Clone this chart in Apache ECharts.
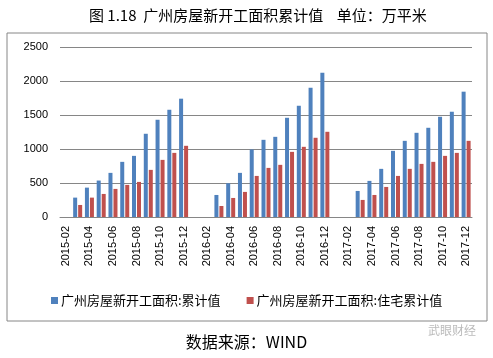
<!DOCTYPE html>
<html><head><meta charset="utf-8">
<script src="https://cdn.jsdelivr.net/npm/echarts@6/dist/echarts.min.js"></script>
<style>html,body{margin:0;padding:0;background:#fff}#c{width:493px;height:358px}</style>
</head><body><div id="c"></div>
<script>
const categories = ['2015-02','2015-03','2015-04','2015-05','2015-06','2015-07','2015-08','2015-09','2015-10','2015-11','2015-12',
'2016-01','2016-02','2016-03','2016-04','2016-05','2016-06','2016-07','2016-08','2016-09','2016-10','2016-11','2016-12',
'2017-01','2017-02','2017-03','2017-04','2017-05','2017-06','2017-07','2017-08','2017-09','2017-10','2017-11','2017-12'];
const totalValues = [null,285,432,536,649,811,899,1224,1430,1577,1740,
null,null,324,496,649,993,1135,1179,1459,1636,1902,2123,
null,null,383,531,708,973,1120,1238,1312,1474,1548,1843];
const residentialValues = [null,177,285,339,413,472,516,693,840,943,1047,
null,null,162,280,369,604,722,767,958,1032,1165,1253,
null,null,251,324,442,604,708,781,811,899,943,1120];
const seriesNames = ['广州房屋新开工面积:累计值','广州房屋新开工面积:住宅累计值'];
const titleText = '图 1.18  广州房屋新开工面积累计值    单位：万平米';
const sourceText = '数据来源：WIND';
const watermarkText = '武眼财经';

const cjk = '"Noto Sans CJK SC", sans-serif';
const chart = echarts.init(document.getElementById('c'));
chart.setOption({
  animation:false,
  title:{text:titleText,left:84,top:3,textStyle:{fontFamily:cjk,fontSize:15,fontWeight:'normal',color:'#000'}},
  legend:{bottom:46,left:46,itemWidth:7,itemHeight:7,itemGap:26,icon:'rect',
    textStyle:{fontFamily:cjk,fontSize:13,color:'#000',padding:[0,0,0,-2]}},
  grid:{left:60,right:21,top:47,bottom:141},
  xAxis:{type:'category',data:categories,
    axisLine:{lineStyle:{color:'#868686'}},axisTick:{show:false},
    axisLabel:{interval:1,rotate:90,fontFamily:'"Liberation Sans", Arial',fontSize:11,color:'#000',margin:9}},
  yAxis:{type:'value',min:0,max:2500,interval:500,
    axisLine:{show:false},axisTick:{show:false},
    splitLine:{lineStyle:{color:'#868686',width:1}},
    axisLabel:{fontFamily:'"Liberation Sans", Arial',fontSize:11,color:'#000',margin:12,formatter:v=>String(v)}},
  series:[
    {name:seriesNames[0],type:'bar',data:totalValues,barWidth:4,barGap:'25%',itemStyle:{color:'#4F81BD'}},
    {name:seriesNames[1],type:'bar',data:residentialValues,barWidth:4,itemStyle:{color:'#C0504D'}}
  ],
  graphic:[
    {type:'rect',shape:{x:7,y:33,width:480,height:288},style:{fill:'none',stroke:'#868686',lineWidth:1},silent:true,z:-1},
    {type:'text',left:'center',top:334,style:{text:sourceText,font:'16px "Noto Sans CJK SC", sans-serif',fill:'#000'}},
    {type:'text',left:428,top:324,style:{text:watermarkText,font:'12px "Noto Sans CJK SC", sans-serif',fill:'#bbb'}}
  ]
});
</script></body></html>
